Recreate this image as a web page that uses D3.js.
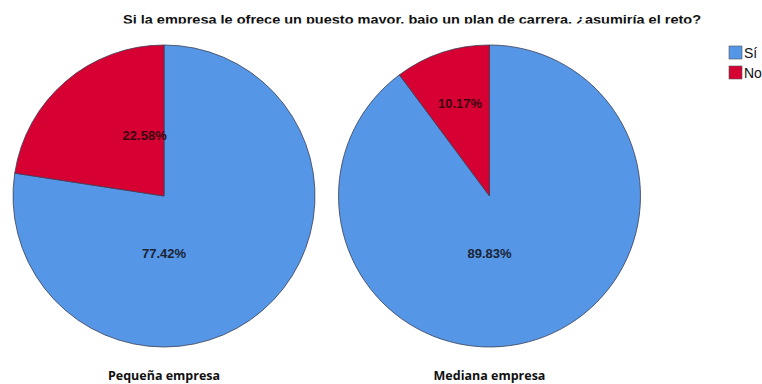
<!DOCTYPE html>
<html>
<head>
<meta charset="utf-8">
<script src="https://cdn.jsdelivr.net/npm/d3@7"></script>
<style>
  html, body { margin: 0; padding: 0; background: #fff; }
  svg { display: block; }
</style>
</head>
<body>
<svg id="chart" width="762" height="384"></svg>
<script>
// Survey answers by company size (percent of respondents)
const title = "Si la empresa le ofrece un puesto mayor, bajo un plan de carrera, ¿asumiría el reto?";
const answers = ["Sí", "No"];
const groups = ["Pequeña empresa", "Mediana empresa"];
const siValues = [77.42, 89.83];
const noValues = [22.58, 10.17];
const answerColors = ["#5596e6", "#d70032"];

const svg = d3.select("#chart");
const W = 762, H = 384;

// Title, clipped at the bottom like the exported graphic
svg.append("defs").append("clipPath").attr("id", "titleClip")
  .append("rect").attr("x", 0).attr("y", 0).attr("width", W).attr("height", 23.5);
svg.append("text")
  .attr("clip-path", "url(#titleClip)")
  .attr("x", 123).attr("y", 24)
  .attr("textLength", 578).attr("lengthAdjust", "spacingAndGlyphs")
  .style("font-family", "Liberation Sans, Arial, sans-serif")
  .style("font-weight", "bold").style("font-size", "12.5px")
  .style("fill", "#111")
  .text(title);

const color = d3.scaleOrdinal().domain(answers).range(answerColors);
const cx = d3.scalePoint().domain(groups).range([164, 489.5]);
const cy = 196, R = 151;

// Clockwise from 12 o'clock: "Sí" first, "No" closes the circle on the upper left
const pie = d3.pie().sort(null).value(d => d.value);
const arc = d3.arc().innerRadius(0).outerRadius(R);

// Label placement per answer: big slice below the centre, small slice near its top
const labelAngle = { "Sí": Math.PI, "No": -0.31 };
const labelRadius = (g, a) => a === "Sí" ? R * 0.38 : (g === 0 ? R * 0.42 : R * 0.64);

groups.forEach((g, gi) => {
  const data = answers.map((a, ai) => ({ answer: a, value: ai === 0 ? siValues[gi] : noValues[gi] }));
  const gEl = svg.append("g").attr("transform", `translate(${cx(g)},${cy})`);
  gEl.selectAll("path").data(pie(data)).join("path")
    .attr("d", arc)
    .attr("fill", d => color(d.data.answer))
    .attr("stroke", "#3a3f55").attr("stroke-width", 0.8)
    .attr("stroke-linejoin", "round");
  gEl.selectAll("text.pct").data(pie(data)).join("text")
    .attr("class", "pct")
    .attr("x", d => Math.sin(labelAngle[d.data.answer]) * labelRadius(gi, d.data.answer))
    .attr("y", d => -Math.cos(labelAngle[d.data.answer]) * labelRadius(gi, d.data.answer))
    .attr("text-anchor", "middle").attr("dominant-baseline", "central")
    .style("font-family", "Liberation Sans, Arial, sans-serif")
    .style("font-weight", "bold").style("font-size", "13px")
    .style("fill", d => d.data.answer === "Sí" ? "#1b2435" : "#3a0010")
    .text(d => d.data.value.toFixed(2) + "%");
  svg.append("text")
    .attr("x", cx(g)).attr("y", 380)
    .attr("text-anchor", "middle")
    .style("font-family", "Open Sans, sans-serif")
    .style("font-weight", "700").style("font-size", "12.5px")
    .style("fill", "#111")
    .text(g);
});

// Legend
const leg = svg.append("g").attr("transform", "translate(729,46)");
answers.forEach((a, i) => {
  leg.append("rect").attr("x", 0).attr("y", i * 20)
    .attr("width", 13).attr("height", 13)
    .attr("fill", color(a)).attr("stroke", "#555").attr("stroke-width", 0.6);
  leg.append("text").attr("x", 15).attr("y", i * 20 + 12)
    .style("font-family", "Liberation Sans, Arial, sans-serif")
    .style("font-size", "14px").style("fill", "#111")
    .text(a);
});
</script>
</body>
</html>
